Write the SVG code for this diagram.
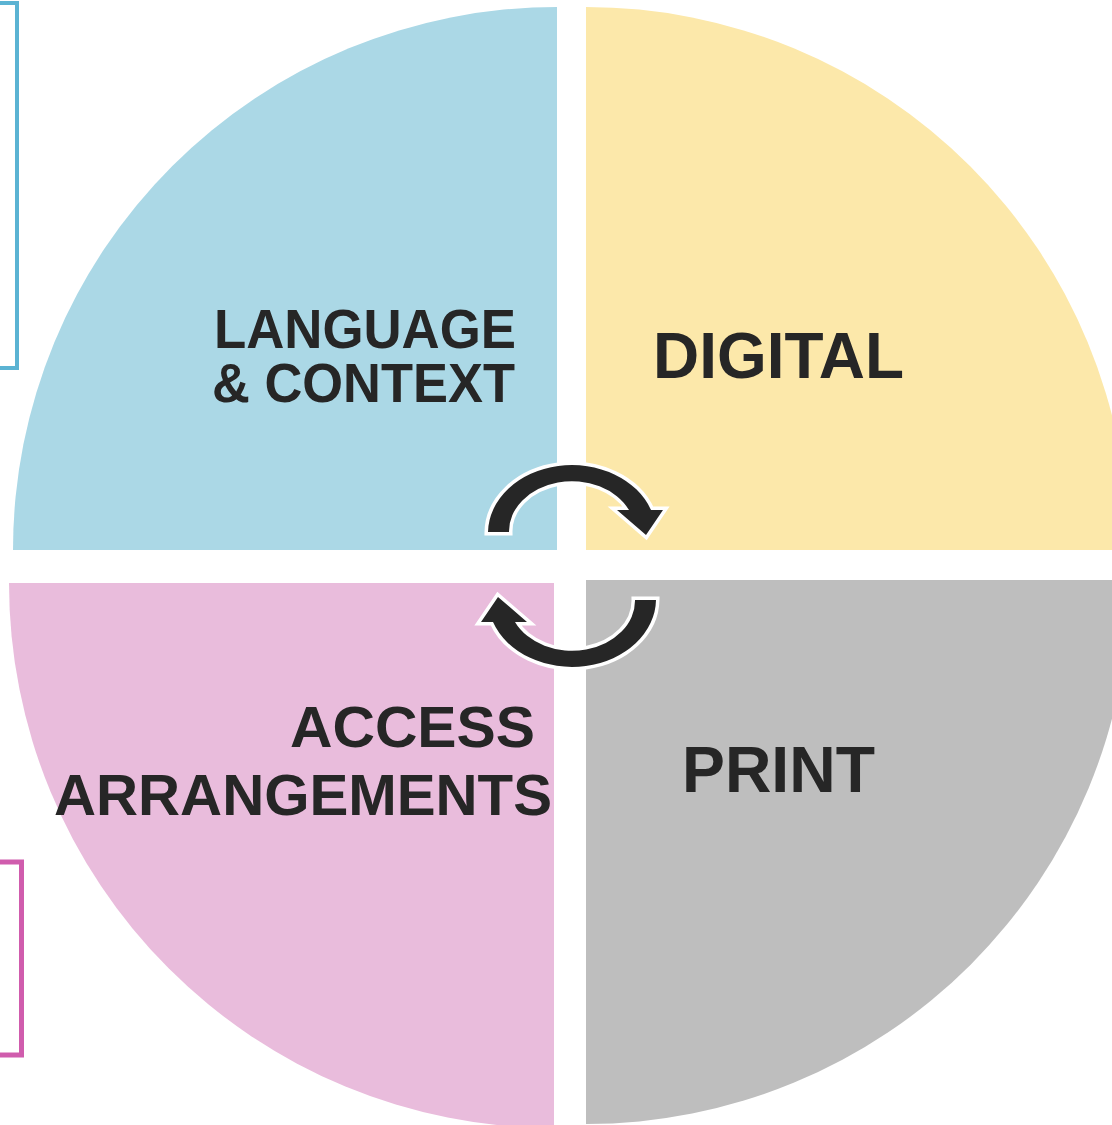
<svg xmlns="http://www.w3.org/2000/svg" width="1112" height="1125" viewBox="0 0 1112 1125">
<style>
.lbl{font-family:"Liberation Sans",Arial,sans-serif;font-weight:bold;fill:#262626}
.arrow{fill:#262626;stroke:#ffffff;stroke-width:7;paint-order:stroke;stroke-linejoin:miter}
</style>
<rect width="1112" height="1125" fill="#ffffff"/>
<g id="frame-blue"><rect x="-20" y="3" width="37" height="365" fill="none" stroke="#5BB3D3" stroke-width="4"/></g>
<g id="frame-pink"><rect x="-20" y="862" width="41.5" height="193" fill="none" stroke="#D05CAD" stroke-width="5"/></g>
<g id="language">
<path d="M557 550 L557 7 A544 543 0 0 0 13 550 Z" fill="#ABD8E6"/>
<text class="lbl" x="516" y="347.5" font-size="55" text-anchor="end" textLength="302" lengthAdjust="spacingAndGlyphs">LANGUAGE</text>
<text class="lbl" x="515" y="401.7" font-size="55" text-anchor="end" textLength="303" lengthAdjust="spacingAndGlyphs">&amp; CONTEXT</text>
</g>
<g id="digital">
<path d="M586 550 L586 7 A543 543 0 0 1 1129 550 Z" fill="#FCE8AA"/>
<text class="lbl" x="653" y="378.3" font-size="65" textLength="251" lengthAdjust="spacingAndGlyphs">DIGITAL</text>
</g>
<g id="access">
<path d="M554 583 L9 583 A545 545 0 0 0 554 1128 Z" fill="#E9BCDC"/>
<text class="lbl" x="535" y="746.7" font-size="58" text-anchor="end" textLength="245" lengthAdjust="spacingAndGlyphs">ACCESS</text>
<text class="lbl" x="552" y="815" font-size="58" text-anchor="end" textLength="498" lengthAdjust="spacingAndGlyphs">ARRANGEMENTS</text>
</g>
<g id="print">
<path d="M586 580 L1130 580 A544 544 0 0 1 586 1124 Z" fill="#BEBEBE"/>
<text class="lbl" x="682" y="791.7" font-size="65" textLength="193" lengthAdjust="spacingAndGlyphs">PRINT</text>
</g>
<g id="connectors">
<path class="arrow" d="M488 532 A84 68 0 0 1 651 510 L663 510 L646 535 L617 510 L629 510 A63 50 0 0 0 509 532 Z"/>
<path class="arrow" transform="rotate(180 572 566)" d="M488 532 A84 68 0 0 1 651 510 L663 510 L646 535 L617 510 L629 510 A63 50 0 0 0 509 532 Z"/>
</g>
</svg>
